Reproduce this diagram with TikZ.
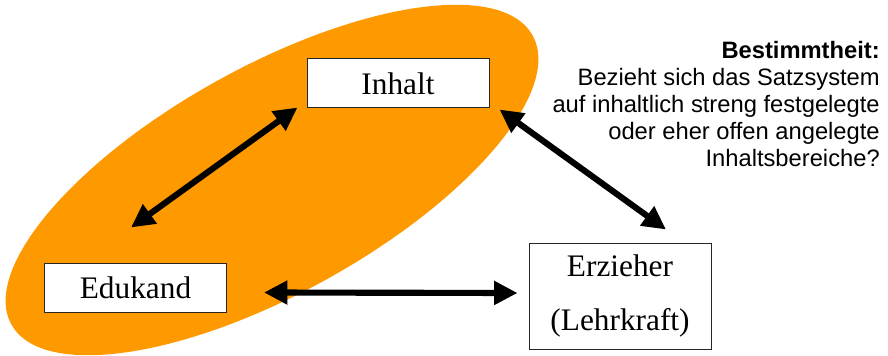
\documentclass[tikz,border=0pt]{standalone}
\usepackage{fontspec}
\setmainfont{Liberation Serif}
\newfontfamily\notefont{Liberation Sans}
\usetikzlibrary{arrows.meta,calc}
\definecolor{fieldorange}{RGB}{255,153,0}
\begin{document}
\begin{tikzpicture}[x=0.75pt, y=-0.75pt]
% define node styles
\tikzstyle{box}     = [draw=black!85, line width=0.75pt, fill=white, inner sep=0pt,
                       minimum width=136.5pt, font=\fontsize{23.5}{28}\selectfont]
\tikzstyle{biarrow} = [line width=4.6pt, {Triangle[length=17.5pt,width=17pt]}-{Triangle[length=17.5pt,width=17pt]}]
\tikzstyle{note}    = [inner sep=0pt, align=right, font=\notefont\fontsize{17.8}{20.3}\selectfont]

\useasboundingbox (0,0) rectangle (888,356);

% orange field behind Inhalt and Edukand
\fill[fieldorange, rotate around={29:(272,180)}] (272,180) ellipse [x radius=223.5pt, y radius=85pt];

% boxes
\node[box, minimum height=36.75pt] (inhalt)   at (398,83.5)  {Inhalt};
\node[box, minimum height=36.75pt] (edukand)  at (135.5,287.5) {Edukand};
\node[box, minimum height=79.5pt, align=center] (erzieher) at (620,296) {Erzieher\\[12pt](Lehrkraft)};

% note on the right
\node[note, anchor=north east] (bestimmtheit) at (880,41)
  {\textbf{Bestimmtheit:}\\ Bezieht sich das Satzsystem\\ auf inhaltlich streng festgelegte\hspace{0.28em}\\ oder eher offen angelegte\\ Inhaltsbereiche?};

% arrows
\draw[biarrow] ([shift={(-9,-1)}]inhalt.south west) -- ([shift={(-4.5,-35)}]edukand.north);
\draw[biarrow] ([shift={(10,1)}]inhalt.south east) -- ([shift={(46,-13)}]erzieher.north);
\draw[biarrow] ([shift={(37,5)}]edukand.east) -- ([shift={(-11,-3)}]erzieher.west);

\end{tikzpicture}
\end{document}
